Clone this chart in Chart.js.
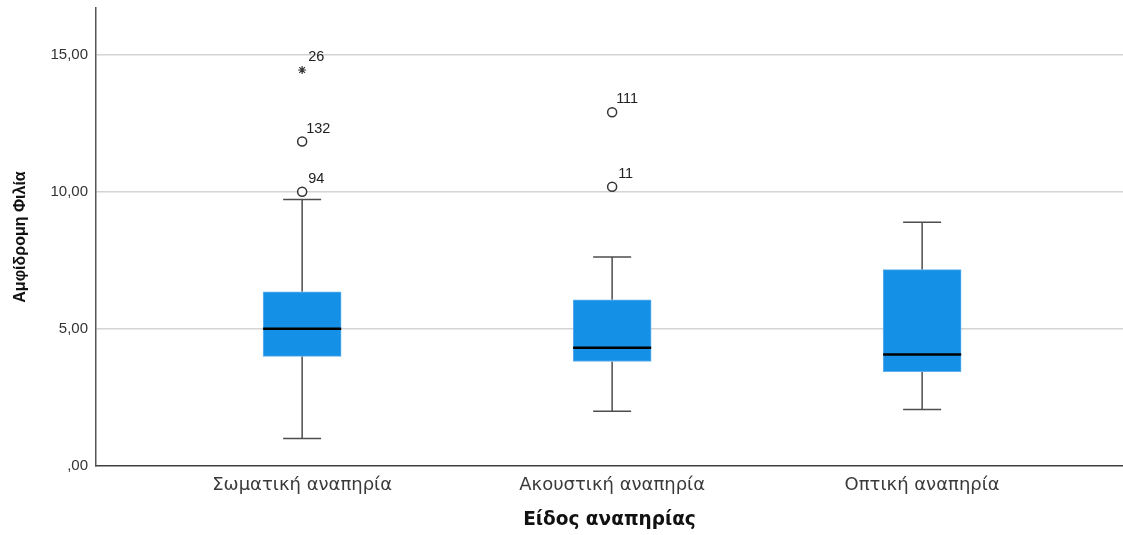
<!DOCTYPE html>
<html>
<head>
<meta charset="utf-8">
<title>Αμφίδρομη Φιλία - Είδος αναπηρίας</title>
<script src="https://cdn.jsdelivr.net/npm/chart.js@4.4.1/dist/chart.umd.min.js"></script>
<style>
  html, body { margin: 0; padding: 0; background: #ffffff; }
  #wrap { width: 1123px; height: 535px; position: relative; }
</style>
</head>
<body>
<div id="wrap"><canvas id="boxChart"></canvas></div>
<script>
// Boxplot (SPSS style) - boxes are floating bars, whiskers/median/outliers via scales

var categories = ["Σωματική αναπηρία", "Ακουστική αναπηρία", "Οπτική αναπηρία"];

// box statistics per category
var q1Values = [4.00, 3.81, 3.44];
var q3Values = [6.35, 6.06, 7.16];
var medianValues = [5.00, 4.31, 4.07];
var whiskerLow = [1.00, 2.00, 2.06];
var whiskerHigh = [9.72, 7.62, 8.89];

// outliers (case number labels)
var outlierCategory = [0, 0, 0, 1, 1];
var outlierValues = [10.00, 11.83, 14.44, 10.18, 12.90];
var outlierLabels = ["94", "132", "26", "11", "111"];
var outlierExtreme = [false, false, true, false, false];

var yTicks = [0, 5, 10, 15];

var boxColor = "#1490e6";
var lineColor = "#4d4d4d";

Chart.defaults.font.family = "'Liberation Sans', Arial, sans-serif";
Chart.defaults.color = "#333333";

function formatComma(v) {
  if (v === 0) return ",00";
  return v.toFixed(2).replace(".", ",");
}

// build datasets from the arrays
var boxData = [];
for (var i = 0; i < categories.length; i++) {
  boxData.push({ x: i, y: [q1Values[i], q3Values[i]] });
}

var normalPoints = [];
var extremePoints = [];
for (var j = 0; j < outlierValues.length; j++) {
  var pt = { x: outlierCategory[j], y: outlierValues[j], label: outlierLabels[j] };
  if (outlierExtreme[j]) {
    extremePoints.push(pt);
  } else {
    normalPoints.push(pt);
  }
}

var boxplotParts = {
  id: "boxplotParts",
  beforeDatasetsDraw: function(chart) {
    var ctx = chart.ctx;
    var xs = chart.scales.x;
    var ys = chart.scales.y;
    var cap = 19;
    ctx.save();
    ctx.strokeStyle = lineColor;
    ctx.lineWidth = 1.5;
    for (var i = 0; i < categories.length; i++) {
      var cx = xs.getPixelForValue(i);
      var yHi = ys.getPixelForValue(whiskerHigh[i]);
      var yLo = ys.getPixelForValue(whiskerLow[i]);
      var yQ1 = ys.getPixelForValue(q1Values[i]);
      var yQ3 = ys.getPixelForValue(q3Values[i]);
      ctx.beginPath();
      ctx.moveTo(cx, yHi); ctx.lineTo(cx, yQ3);
      ctx.moveTo(cx, yQ1); ctx.lineTo(cx, yLo);
      ctx.moveTo(cx - cap, yHi); ctx.lineTo(cx + cap, yHi);
      ctx.moveTo(cx - cap, yLo); ctx.lineTo(cx + cap, yLo);
      ctx.stroke();
    }
    ctx.restore();
  },
  afterDatasetsDraw: function(chart) {
    var ctx = chart.ctx;
    var xs = chart.scales.x;
    var ys = chart.scales.y;
    var half = 39;
    ctx.save();
    // median lines
    ctx.strokeStyle = "#000000";
    ctx.lineWidth = 2.5;
    for (var i = 0; i < categories.length; i++) {
      var cx = xs.getPixelForValue(i);
      var ym = ys.getPixelForValue(medianValues[i]);
      ctx.beginPath();
      ctx.moveTo(cx - half, ym);
      ctx.lineTo(cx + half, ym);
      ctx.stroke();
    }
    // case labels next to outliers
    ctx.fillStyle = "#222222";
    ctx.font = "14.5px 'Liberation Sans', Arial, sans-serif";
    ctx.textAlign = "left";
    ctx.textBaseline = "middle";
    for (var j = 0; j < outlierValues.length; j++) {
      var px = xs.getPixelForValue(outlierCategory[j]);
      var py = ys.getPixelForValue(outlierValues[j]);
      var dx = outlierLabels[j].length === 3 ? 4 : 6;
      ctx.fillText(outlierLabels[j], px + dx, py - 13);
    }
    ctx.restore();
  }
};

var ctx = document.getElementById("boxChart");

new Chart(ctx, {
  type: "bar",
  data: {
    datasets: [{
      type: "bar",
      data: boxData,
      backgroundColor: boxColor,
      borderColor: "#5fb0ee",
      borderWidth: 1,
      borderSkipped: false,
      barThickness: 78,
      order: 2
    }, {
      type: "scatter",
      data: normalPoints,
      pointStyle: "circle",
      pointRadius: 4.5,
      pointBackgroundColor: "#ffffff",
      pointBorderColor: "#333333",
      pointBorderWidth: 1.5,
      order: 1
    }, {
      type: "scatter",
      data: extremePoints,
      pointStyle: "star",
      pointRadius: 4,
      pointBorderColor: "#333333",
      pointBorderWidth: 1.2,
      order: 1
    }]
  },
  options: {
    responsive: true,
    maintainAspectRatio: false,
    animation: false,
    layout: { autoPadding: false, padding: { top: 8, left: 0, right: 0, bottom: 0 } },
    plugins: {
      legend: { display: false },
      tooltip: { enabled: false }
    },
    scales: {
      x: {
        type: "linear",
        offset: false,
        min: -0.665,
        max: 2.648,
        grid: { display: false, drawTicks: false },
        border: { display: true, color: "#404040", width: 1.5 },
        afterBuildTicks: function(scale) {
          scale.ticks = categories.map(function(c, i) { return { value: i }; });
        },
        afterFit: function(scale) {
          scale.height = 69;
          scale.paddingLeft = 0;
          scale.paddingRight = 0;
        },
        ticks: {
          padding: 9,
          font: { size: 18, family: "'DejaVu Sans', sans-serif" },
          color: "#3a3a3a",
          callback: function(value) { return categories[value]; }
        },
        title: {
          display: true,
          text: "Είδος αναπηρίας",
          font: { size: 18.5, weight: "bold", family: "'DejaVu Sans', sans-serif" },
          color: "#111111",
          padding: { top: 0, bottom: 4 }
        }
      },
      y: {
        min: 0,
        max: 16.7,
        grid: {
          drawTicks: false,
          lineWidth: 1.5,
          color: function(c) { return c.tick && c.tick.value === 0 ? "rgba(0,0,0,0)" : "#d4d4d4"; }
        },
        border: { display: true, color: "#555555", width: 1.5 },
        afterBuildTicks: function(scale) {
          scale.ticks = yTicks.map(function(v) { return { value: v }; });
        },
        afterFit: function(scale) {
          scale.width = 96;
          scale.paddingTop = 0;
          scale.paddingBottom = 0;
        },
        ticks: {
          padding: 8,
          font: { size: 15 },
          color: "#333333",
          callback: function(value) { return formatComma(value); }
        },
        title: {
          display: true,
          text: "Αμφίδρομη Φιλία",
          font: { size: 16, weight: "bold" },
          color: "#111111",
          padding: { top: 11, bottom: 0 }
        }
      }
    }
  },
  plugins: [boxplotParts]
});
</script>
</body>
</html>
